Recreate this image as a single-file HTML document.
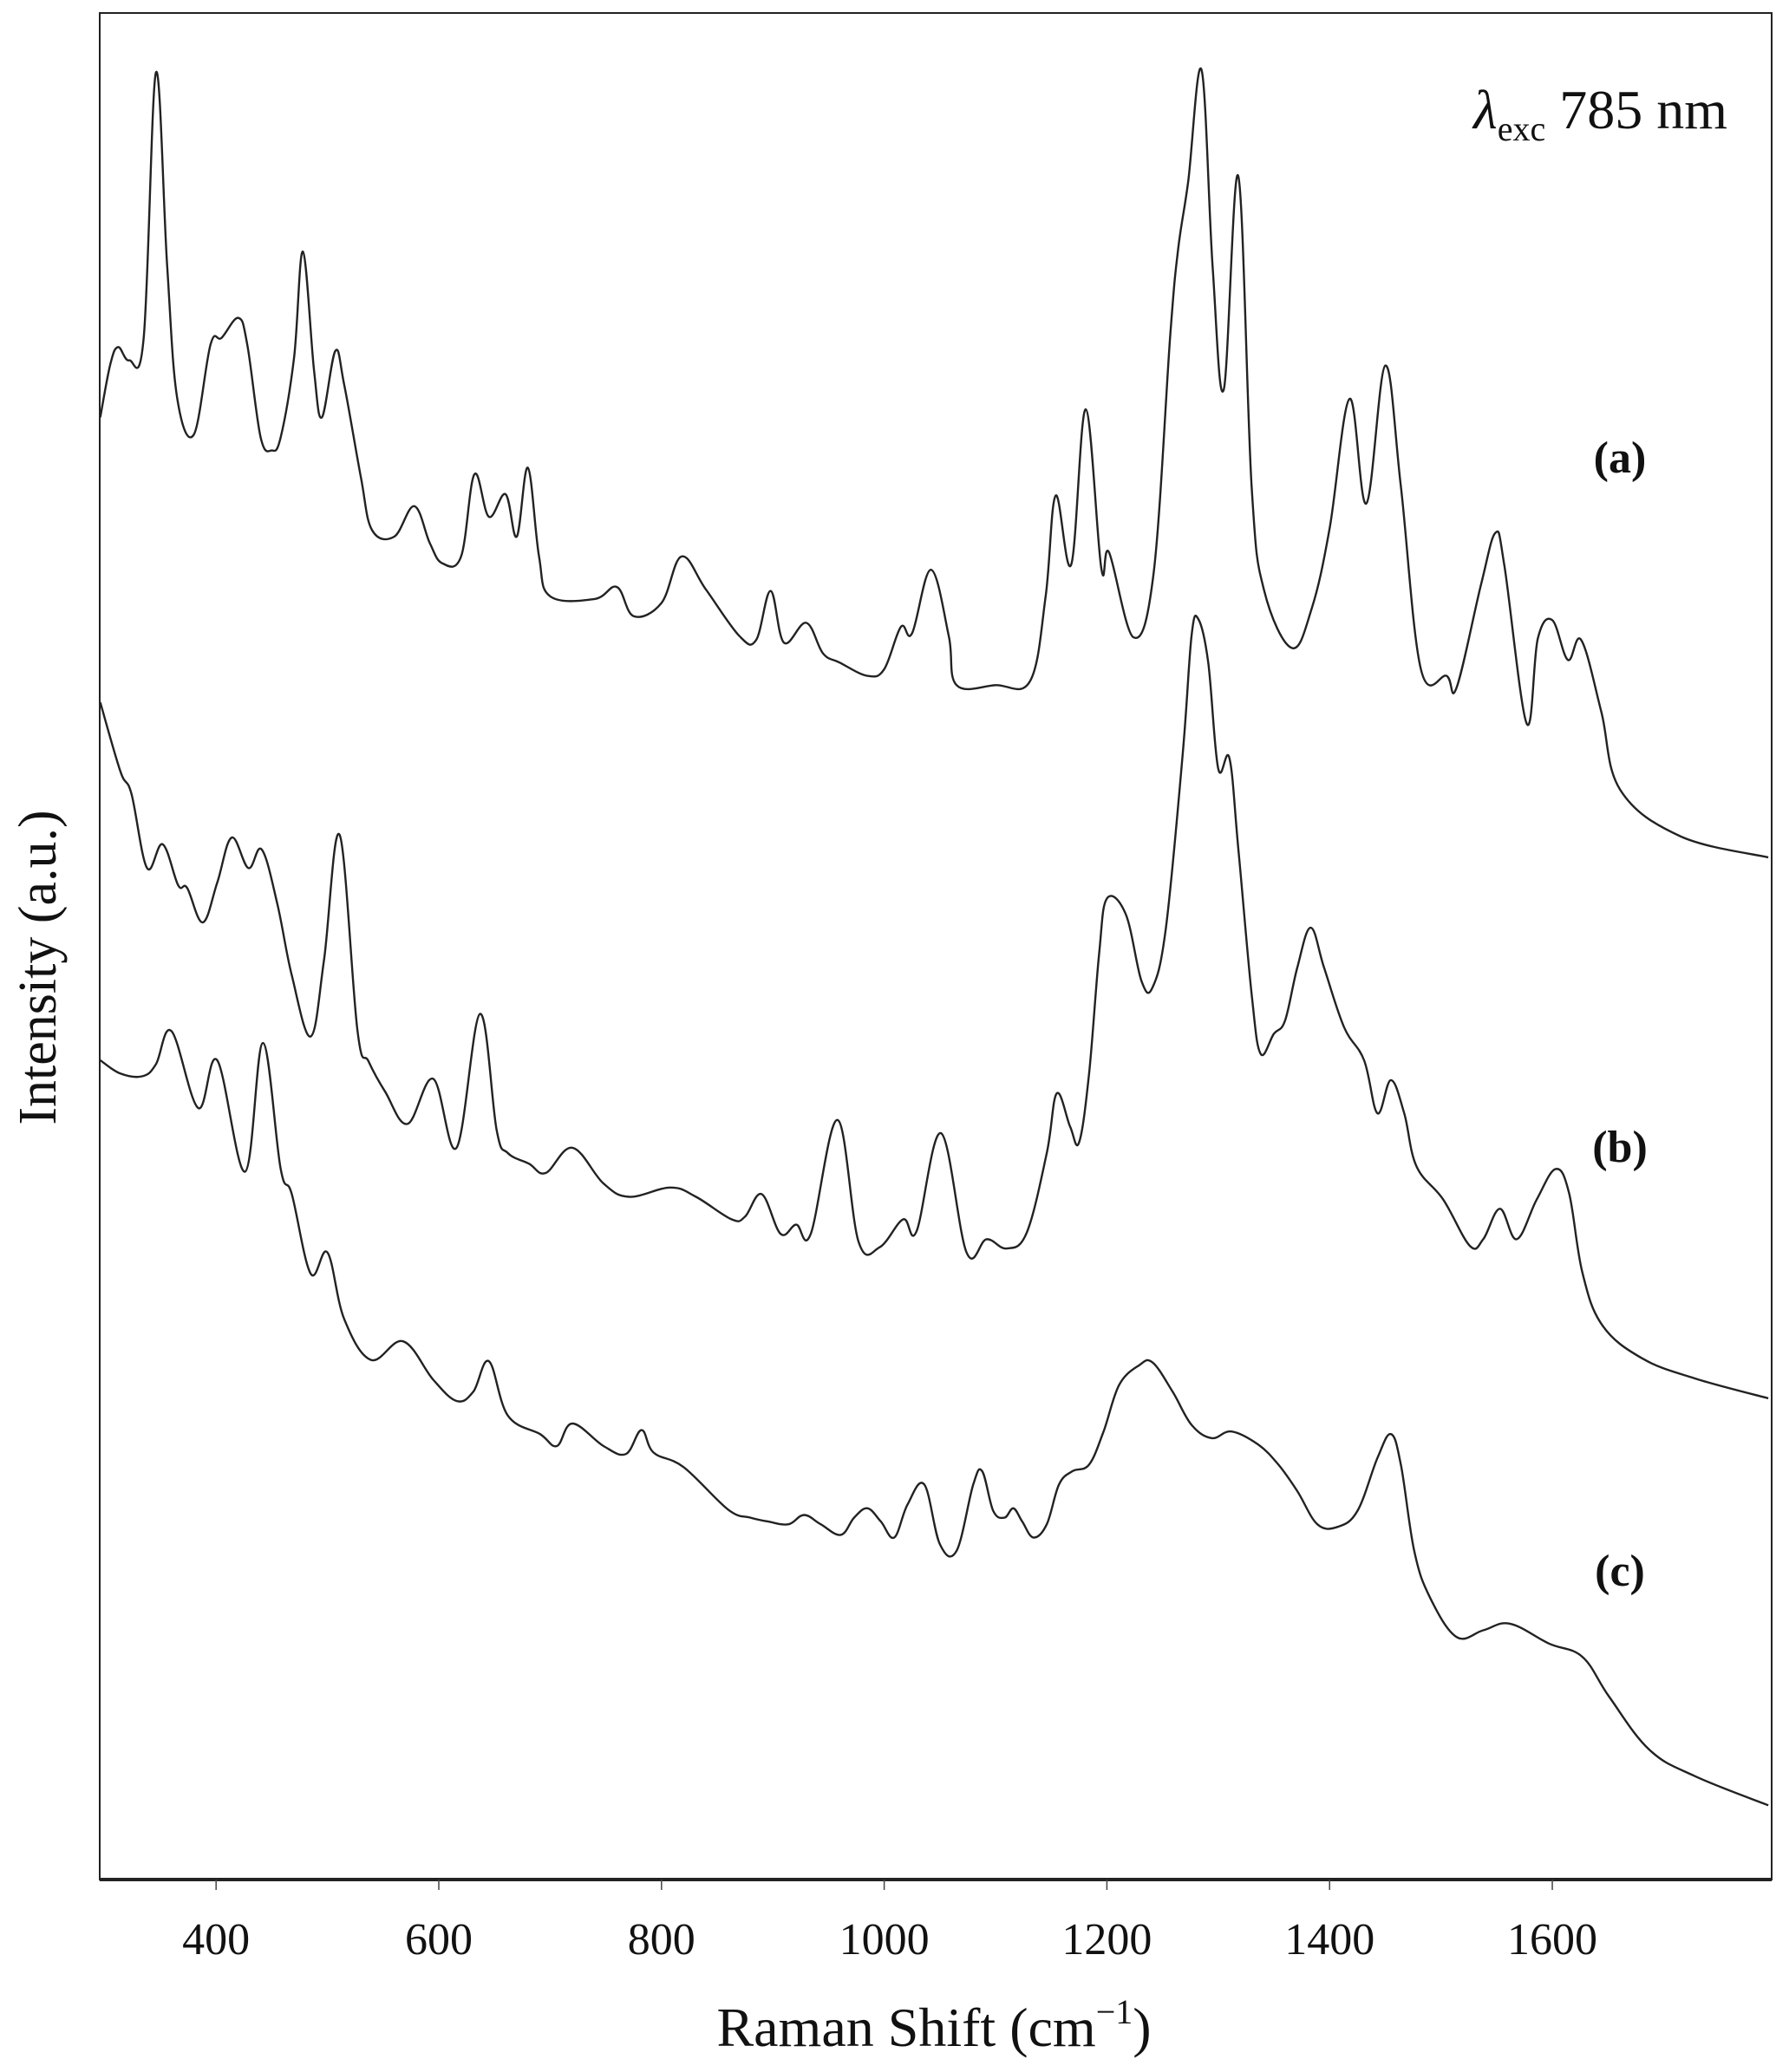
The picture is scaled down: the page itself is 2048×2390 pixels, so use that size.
<!DOCTYPE html>
<html>
<head>
<meta charset="utf-8">
<style>
  html,body{margin:0;padding:0;background:#fff;}
  svg{display:block;}
  text{font-family:"Liberation Serif","DejaVu Serif",serif;fill:#111;}
</style>
</head>
<body>
<svg id="chart" width="2048" height="2390" viewBox="0 0 2048 2390" xmlns="http://www.w3.org/2000/svg">
  <rect x="0" y="0" width="2048" height="2390" fill="#fff"/>
  <g id="plot"></g>
  <rect x="115" y="15" width="1928" height="2153" fill="none" stroke="#222" stroke-width="2"/>
  <line x1="115" y1="2168" x2="2043" y2="2168" stroke="#222" stroke-width="4"/>
  <g id="xticks"></g>
  <text x="1077" y="2360" font-size="64" text-anchor="middle">Raman Shift (cm<tspan font-size="40" dy="-26">−1</tspan><tspan dy="26">)</tspan></text>
  <text x="0" y="0" font-size="62" text-anchor="middle" transform="translate(64,1116) rotate(-90)">Intensity (a.u.)</text>
  <text x="1992" y="148" font-size="64" text-anchor="end"><tspan font-style="italic">λ</tspan><tspan font-size="40" dy="14">exc</tspan><tspan dy="-14"> 785 nm</tspan></text>
  <text x="1868" y="545" font-size="52" font-weight="bold" text-anchor="middle">(a)</text>
  <text x="1868" y="1340" font-size="52" font-weight="bold" text-anchor="middle">(b)</text>
  <text x="1868" y="1829" font-size="52" font-weight="bold" text-anchor="middle">(c)</text>
</svg>
<script>
const xTicks = [400, 600, 800, 1000, 1200, 1400, 1600];
const xTickLabels = ["400", "600", "800", "1000", "1200", "1400", "1600"];

const waveA = [296,305,312,322,335,346,356,365,380,395,405,420,428,440,450,458,470,478,488,495,507,515,530,540,560,578,592,603,620,632,645,660,670,680,690,700,740,760,775,800,818,840,870,885,898,910,930,945,960,985,1000,1015,1025,1042,1058,1065,1100,1131,1145,1154,1168,1181,1195,1202,1224,1242,1257,1264,1273,1285,1295,1305,1318,1330,1341,1366,1384,1400,1418,1433,1450,1464,1482,1505,1514,1536,1549,1557,1577,1587,1600,1614,1626,1644,1661,1715,1794];
const intensityA = [1103,1143,1156,1146,1163,1363,1218,1118,1090,1158,1163,1178,1158,1088,1078,1088,1148,1228,1138,1103,1153,1128,1058,1018,1013,1036,1008,993,998,1060,1028,1045,1013,1065,998,968,966,975,953,963,998,973,938,935,972,933,948,925,918,908,913,945,940,988,938,901,901,904,968,1044,992,1109,989,1001,937,986,1166,1230,1281,1365,1216,1124,1285,1051,973,929,959,1019,1117,1038,1142,1051,913,908,899,977,1016,991,872,936,950,920,935,881,822,787,771];

const waveB = [296,314,324,338,352,366,374,388,401,414,429,441,455,468,485,497,511,527,537,552,572,595,616,637,652,662,681,696,720,748,771,808,831,863,875,890,907,921,934,958,977,996,1017,1029,1051,1074,1092,1110,1128,1146,1155,1167,1175,1184,1193,1200,1217,1231,1241,1253,1268,1276,1282,1291,1300,1310,1318,1330,1338,1350,1360,1371,1383,1395,1413,1431,1443,1455,1467,1478,1502,1526,1538,1553,1568,1586,1603,1615,1627,1645,1681,1728,1794];
const intensityB = [888,836,819,763,781,750,748,722,752,786,763,777,736,682,636,694,788,640,617,594,570,604,552,653,565,548,540,533,552,525,515,522,515,498,500,517,487,494,487,573,481,477,498,489,563,473,483,476,488,548,593,568,556,608,698,740,728,678,673,718,848,938,951,918,838,846,778,668,623,638,648,688,718,688,643,618,578,603,578,538,513,478,483,506,483,513,536,518,458,418,393,378,363];

const waveC = [296,314,334,346,360,384,401,426,442,458,468,485,500,515,539,568,595,616,631,645,662,691,706,720,748,768,782,793,820,860,880,896,914,928,943,961,973,985,997,1009,1021,1036,1050,1065,1080,1088,1098,1108,1116,1124,1134,1146,1157,1169,1184,1197,1211,1229,1241,1259,1276,1294,1312,1336,1354,1371,1389,1407,1425,1443,1455,1464,1476,1490,1514,1538,1562,1597,1627,1651,1687,1728,1794];
const intensityC = [618,608,606,615,640,582,618,534,631,536,517,457,473,423,392,406,377,361,368,391,350,336,327,344,327,321,339,322,311,279,273,270,268,275,268,260,273,280,270,258,283,298,253,248,298,308,278,273,280,270,258,268,298,308,313,338,373,388,390,368,343,333,338,328,313,293,268,266,278,318,336,313,248,213,183,188,193,178,168,138,98,78,56];

const X0 = 115, X1 = 2043, Y0 = 2168, Y1 = 15;
const xMin = 295.5, xMax = 1797;
const vMin = 0, vMax = 1408;
function xScale(w){ return X0 + (w - xMin) / (xMax - xMin) * (X1 - X0); }
function yScale(v){ return Y0 - (v - vMin) / (vMax - vMin) * (Y0 - Y1); }

const NS = "http://www.w3.org/2000/svg";
const plot = document.getElementById('plot');

// Catmull-Rom style smoothing through the traced points
function buildPath(xs, ys){
  const pts = xs.map((w,i)=>[xScale(w), yScale(ys[i])]);
  let d = "M" + pts[0][0].toFixed(1) + "," + pts[0][1].toFixed(1);
  for (let i = 0; i < pts.length - 1; i++){
    const p0 = pts[Math.max(i-1,0)], p1 = pts[i], p2 = pts[i+1], p3 = pts[Math.min(i+2, pts.length-1)];
    const t = 0.18;
    const c1x = p1[0] + (p2[0]-p0[0])*t, c1y = p1[1] + (p2[1]-p0[1])*t;
    const c2x = p2[0] - (p3[0]-p1[0])*t, c2y = p2[1] - (p3[1]-p1[1])*t;
    d += " C" + c1x.toFixed(1) + "," + c1y.toFixed(1) + " " + c2x.toFixed(1) + "," + c2y.toFixed(1) + " " + p2[0].toFixed(1) + "," + p2[1].toFixed(1);
  }
  return d;
}

const pa = document.createElementNS(NS, 'path');


pa.setAttribute('d', buildPath(waveA, intensityA));
pa.setAttribute('fill', 'none'); pa.setAttribute('stroke', '#222'); pa.setAttribute('stroke-width', '2.4');
plot.appendChild(pa);

const pb = document.createElementNS(NS, 'path');


pb.setAttribute('d', buildPath(waveB, intensityB));
pb.setAttribute('fill', 'none'); pb.setAttribute('stroke', '#222'); pb.setAttribute('stroke-width', '2.4');
plot.appendChild(pb);

const pc = document.createElementNS(NS, 'path');


pc.setAttribute('d', buildPath(waveC, intensityC));
pc.setAttribute('fill', 'none'); pc.setAttribute('stroke', '#222'); pc.setAttribute('stroke-width', '2.4');
plot.appendChild(pc);

const tg = document.getElementById('xticks');
xTicks.forEach((t, i) => {
  const x = xScale(t);
  const ln = document.createElementNS(NS, 'line');
  
  
  ln.setAttribute('x1', x); ln.setAttribute('x2', x);
  ln.setAttribute('y1', Y0); ln.setAttribute('y2', Y0 + 12);
  ln.setAttribute('stroke', '#444'); ln.setAttribute('stroke-width', '1.5');
  tg.appendChild(ln);
  const tx = document.createElementNS(NS, 'text');
  
  
  tx.setAttribute('x', x); tx.setAttribute('y', 2254);
  tx.setAttribute('font-size', '52'); tx.setAttribute('text-anchor', 'middle');
  tx.textContent = xTickLabels[i];
  tg.appendChild(tx);
});
</script>
</body>
</html>
